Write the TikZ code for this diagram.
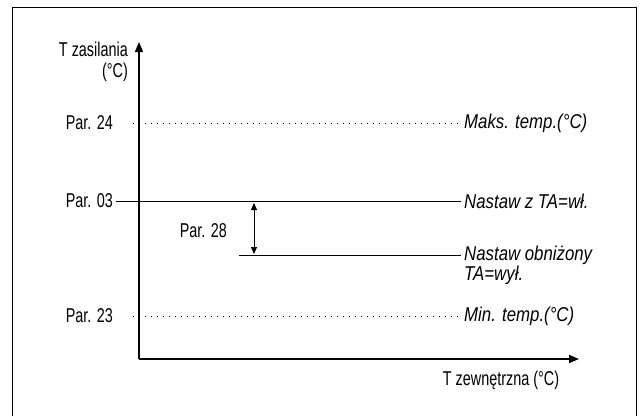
\documentclass[tikz,border=0pt]{standalone}
\usepackage{fontspec}
\setmainfont{Liberation Sans}[FakeStretch=0.72, ItalicFeatures={FakeStretch=0.84}]
\usetikzlibrary{arrows.meta,positioning}

\begin{document}
\begin{tikzpicture}[
  x=1pt, y=-1pt,
  every node/.style={font=\fontsize{20}{21}\selectfont, inner sep=0pt},
  par/.style={anchor=east, inner xsep=3pt},
  lbl/.style={anchor=west, inner xsep=3pt, align=left, font=\fontsize{20}{20}\selectfont\itshape},
  axis/.style={line width=1.5pt, -{Triangle[length=10pt,width=8pt]}},
  lim/.style={line width=0.7pt, dash pattern=on 0.8pt off 5.2pt},
  setline/.style={line width=0.8pt}
]
\useasboundingbox (0,0) rectangle (644,416);
% frame
\draw[line width=1pt] (12,416) |- (636,7) -- (636,416);

% axes
\coordinate (o) at (139,359);
\coordinate (ytop) at (139,42);
\coordinate (xend) at (579,359);
\draw[axis] (o) -- (ytop);
\draw[axis] (o) -- (xend);
\node[anchor=east, align=right] (ylab) at (128,62) {T zasilania\\(°C)};
\node (xlab) at (501,380) {T zewnętrzna (°C)};

% levels
\node[par] (p24) at (116,123) {Par. 24};
\node[par] (p03) at (116,201) {Par. 03};
\node[par] (p23) at (116,316) {Par. 23};
\node[par] (p28) at (230,231) {Par. 28};

\node[lbl] (maks) at (461,123) {Maks. temp.(°C)};
\node[lbl] (ta) at (461,201) {Nastaw z TA=wł.};
\node[lbl] (obn) at (461,265) {Nastaw obniżony\\TA=wył.};
\node[lbl] (mint) at (461,316) {Min. temp.(°C)};

\coordinate (d24) at (133,123);
\coordinate (d23) at (133,316);
\coordinate (low) at (239,255);
\draw[lim] (d24) -- (maks.west);
\draw[lim] (d23) -- (mint.west);
\draw[setline] (p03.east) -- (ta.west);
\draw[setline] (low) -- (low -| obn.west);

% Par. 28 offset
\coordinate (a1) at (254,203);
\coordinate (a2) at (254,254);
\draw[line width=1pt, {Triangle[length=7pt,width=6pt]}-{Triangle[length=7pt,width=6pt]}] (a1) -- (a2);
\end{tikzpicture}
\end{document}
